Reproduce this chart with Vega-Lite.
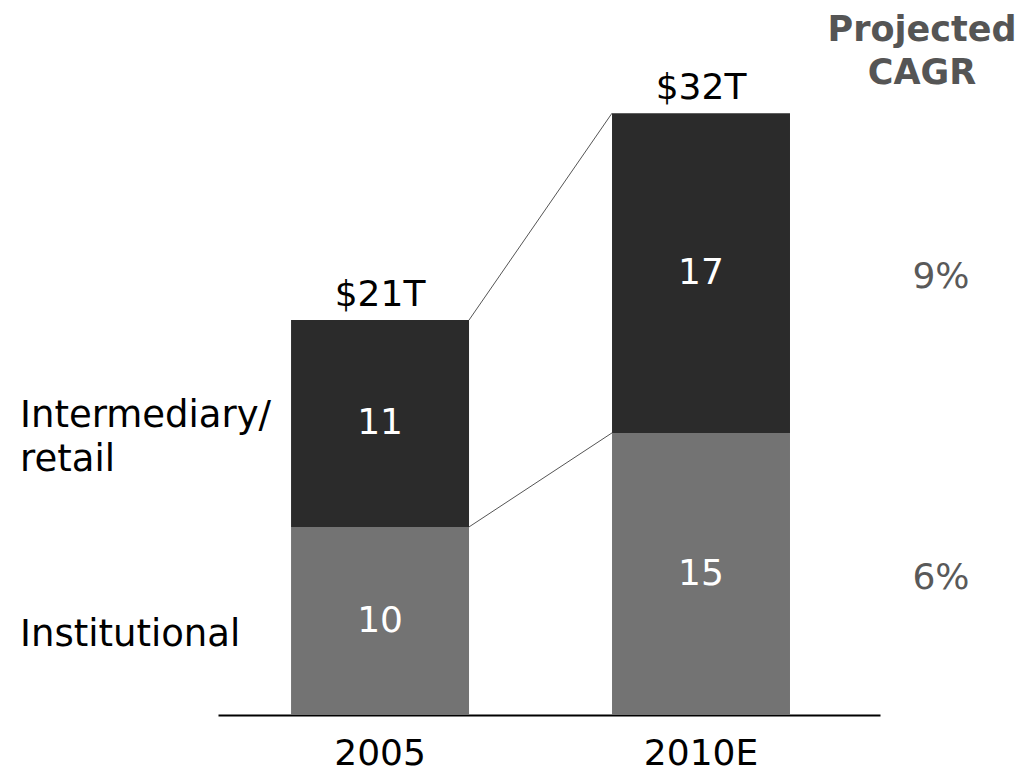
{
  "$schema": "https://vega.github.io/schema/vega-lite/v6.json",
  "autosize": "none",
  "padding": {"left": 218, "right": 144, "top": 100, "bottom": 58},
  "width": 662,
  "height": 615,
  "background": "white",
  "config": {
    "font": "DejaVu Sans",
    "view": {"stroke": null}
  },
  "title": {
    "text": ["Projected", "CAGR"],
    "anchor": "end",
    "frame": "group",
    "align": "center",
    "dx": 42,
    "dy": 38,
    "fontSize": 35,
    "fontWeight": "bold",
    "color": "#555555",
    "lineHeight": 43,
    "offset": 17
  },
  "data": {
    "values": [
      {"year": "2005", "series": "Institutional", "value": 10},
      {"year": "2005", "series": "Intermediary/retail", "value": 11},
      {"year": "2010E", "series": "Institutional", "value": 15, "cagr": "6%"},
      {"year": "2010E", "series": "Intermediary/retail", "value": 17, "cagr": "9%"}
    ]
  },
  "transform": [
    {"stack": "value", "groupby": ["year"], "sort": [{"field": "series", "order": "ascending"}], "as": ["y0", "y1"]},
    {"calculate": "(datum.y0 + datum.y1) / 2", "as": "mid"}
  ],
  "encoding": {
    "x": {
      "field": "year",
      "type": "nominal",
      "sort": ["2005", "2010E"],
      "scale": {"paddingInner": 0.4455, "paddingOuter": 0.254, "align": 0.448},
      "axis": {
        "title": null,
        "labelAngle": 0,
        "labelFontSize": 36,
        "labelColor": "#000000",
        "ticks": false,
        "labelPadding": 21,
        "domainColor": "#000000",
        "domainWidth": 2
      }
    }
  },
  "layer": [
    {
      "mark": {"type": "bar"},
      "encoding": {
        "y": {"field": "y1", "type": "quantitative", "scale": {"domain": [0, 32.7], "nice": false, "zero": true}, "axis": null},
        "y2": {"field": "y0"},
        "color": {
          "field": "series",
          "type": "nominal",
          "scale": {"domain": ["Institutional", "Intermediary/retail"], "range": ["#737373", "#2b2b2b"]},
          "legend": null
        }
      }
    },
    {
      "mark": {"type": "text", "fontSize": 36, "color": "#ffffff", "baseline": "middle"},
      "encoding": {
        "y": {"field": "mid", "type": "quantitative"},
        "text": {"field": "value", "type": "quantitative"}
      }
    },
    {
      "transform": [
        {"filter": "datum.year == '2005' && datum.series == 'Intermediary/retail'"},
        {"calculate": "replace(datum.series, '/', '/\\n')", "as": "lbl"}
      ],
      "mark": {"type": "text", "fontSize": 37, "color": "#000000", "align": "left", "baseline": "middle", "dx": -360, "dy": -7, "lineBreak": "\n", "lineHeight": 44},
      "encoding": {
        "y": {"field": "mid", "type": "quantitative"},
        "text": {"field": "lbl", "type": "nominal"}
      }
    },
    {
      "transform": [
        {"filter": "datum.year == '2005' && datum.series == 'Institutional'"}
      ],
      "mark": {"type": "text", "fontSize": 37, "color": "#000000", "align": "left", "baseline": "middle", "dx": -360, "dy": 14},
      "encoding": {
        "y": {"field": "mid", "type": "quantitative"},
        "text": {"field": "series", "type": "nominal"}
      }
    },
    {
      "transform": [{"filter": "datum.cagr != null"}],
      "mark": {"type": "text", "fontSize": 36, "color": "#595959", "align": "center", "baseline": "middle", "dx": 240, "dy": 4},
      "encoding": {
        "y": {"field": "mid", "type": "quantitative"},
        "text": {"field": "cagr", "type": "nominal"}
      }
    },
    {
      "transform": [
        {"filter": "datum.series == 'Intermediary/retail'"},
        {"calculate": "'$' + datum.y1 + 'T'", "as": "total"}
      ],
      "mark": {"type": "text", "fontSize": 36, "color": "#000000", "align": "center", "baseline": "alphabetic", "dy": -14},
      "encoding": {
        "y": {"field": "y1", "type": "quantitative"},
        "text": {"field": "total", "type": "nominal"}
      }
    },
    {
      "transform": [
        {"pivot": "year", "value": "y1", "groupby": ["series"]}
      ],
      "mark": {"type": "rule", "color": "#555555", "strokeWidth": 1},
      "encoding": {
        "x": {"datum": "2005", "bandPosition": 1},
        "x2": {"datum": "2010E", "bandPosition": 0},
        "y": {"field": "2005", "type": "quantitative"},
        "y2": {"field": "2010E"}
      }
    }
  ]
}
